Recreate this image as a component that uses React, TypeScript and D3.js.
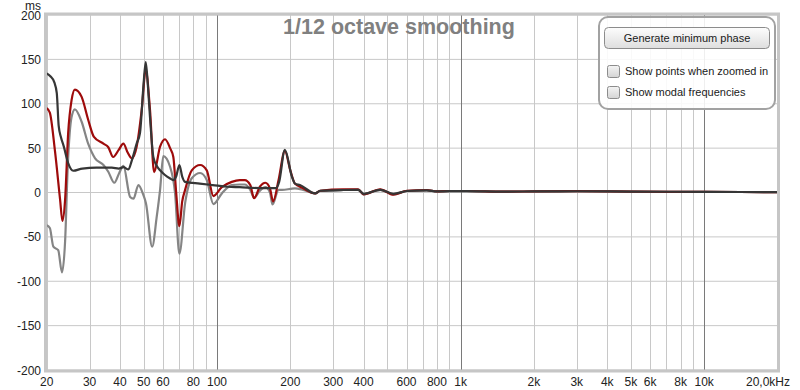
import React from "react";
import * as d3 from "d3";

// ---------- data ----------
const redFreq = [
  20, 20.6, 21.6, 22.7, 23.2, 23.8, 24.5, 25.3, 26.1, 27.8,
  29.6, 31.2, 34.2, 35.8, 37.5, 39.5, 41.3, 43, 44.7, 46.8,
  49.1, 51, 53.1, 55.2, 58.4, 61.2, 64.2, 66.2, 68, 70.1,
  72, 74, 78.8, 85.3, 90.8, 96.7, 104.7, 115, 124, 130,
  137, 142, 150, 158, 165, 170, 179, 190, 200, 209,
  226, 253, 265, 330, 380, 400, 468, 530, 602, 727,
  800, 900, 1060, 1500, 2000, 3000, 5000, 10000, 20000,
];
const redMs = [
  95, 90, 48, -8, -32, -8, 67, 104, 116, 108,
  82, 63, 55, 51, 40, 48, 55, 45, 38.5, 51.6,
  93, 138, 93, 23, 51.6, 60, 50, 40, 0, -38,
  -10, 3, 25, 31, 25, -4, 6, 12, 14, 14,
  8.4, -6.5, 6.5, 11, 4.7, -10, 14, 47, 25, 10,
  4.7, -1, 2, 3.6, 3.6, -2, 3.6, -2.5, 2, 2.8,
  1.2, 1.7, 1.7, 1, 1.2, 1.5, 1, 0.7, 0.4,
];

const grayFreq = [
  20, 20.6, 21.3, 22.3, 23.1, 23.8, 24.4, 25.3, 26.1, 27.8,
  29.6, 31.6, 34.2, 35.8, 37.9, 39.7, 41.3, 44, 45.4, 47.6,
  49.9, 51.1, 54.2, 56.6, 58.4, 60.2, 64.2, 67.3, 70.1, 74,
  78.8, 85.3, 90.8, 96.7, 104.7, 115, 124, 130, 137, 142,
  150, 158, 165, 169, 179, 185, 200, 209, 226, 253,
  265, 330, 380, 400, 468, 530, 602, 727, 800, 900,
  1060, 1500, 2000, 3000, 5000, 10000, 20000,
];
const grayMs = [
  -37, -40, -61, -65, -90, -55, 29, 85, 93.7, 80,
  55, 38.5, 31, 23.4, 11, 22, 30, -5, -7, 8.4,
  -3, -12, -61, -27, 3, 41, 29, -1, -69, -12,
  16, 22, 14, -13, -1, 8.4, 9, 9, 3, -6,
  2, 6, 0, -13.5, 3, 3, 4, 4.7, 3, -1,
  1.7, 2.8, 3, -2, 3, -2, 1.7, 2.5, 1.2, 1.5,
  1.5, 1, 1.2, 1.4, 1, 0.7, 0.4,
];

const darkFreq = [
  20, 20.7, 21.5, 22.0, 22.4, 22.9, 23.5, 24.5, 25.7, 28,
  32, 37, 39.5, 41.3, 43.3, 44.7, 46.8, 48.3, 49.9, 51,
  52, 53.1, 54.8, 56.6, 58.4, 61, 64, 66.2, 68, 70.1,
  72, 74, 85, 96, 111, 124, 150, 175, 180, 190,
  203, 209, 219, 253, 265, 330, 380, 400, 468, 530,
  602, 727, 800, 900, 1060, 1500, 2000, 3000, 5000, 10000,
  20000,
];
const darkMs = [
  134, 131, 124, 112, 75, 62, 52, 33, 24.5, 27,
  28, 28, 27, 28.5, 26, 36, 55, 67, 120, 147,
  122, 85, 40, 30, 25, 20, 16, 14, 18, 31,
  18, 12, 10, 8.4, 6.5, 6, 5, 5, 12, 48,
  18, 10, 8.4, -1, 2, 2.8, 3, -1.5, 3, -1.5,
  1.7, 2.5, 1.2, 1.5, 1.5, 1, 1.2, 1.4, 1, 0.7,
  0.4,
];

const yTicks = [200, 150, 100, 50, 0, -50, -100, -150, -200];
const xTickValues = [20, 30, 40, 50, 60, 80, 100, 200, 300, 400, 600, 800, 1000, 2000, 3000, 4000, 5000, 6000, 8000, 10000];
const xTickLabels = ["20", "30", "40", "50", "60", "80", "100", "200", "300", "400", "600", "800", "1k", "2k", "3k", "4k", "5k", "6k", "8k", "10k"];
const lastTickLabel = "20,0kHz";
const titleText = "1/12 octave smoothing";
const yUnit = "ms";
const buttonLabel = "Generate minimum phase";
const checkLabels = ["Show points when zoomed in", "Show modal frequencies"];

// ---------- layout ----------
const W = 800;
const H = 390;
const x = d3.scaleLog().domain([20, 20000]).range([46.7, 777.5]);
const y = d3.scaleLinear().domain([-200, 200]).range([370, 15]);
const FONT = "'Liberation Sans', Arial, sans-serif";

const gridFreqs: number[] = [];
for (let dec = 10; dec <= 1000; dec *= 10) {
  for (let m = 1; m <= 9; m++) {
    const f = m * dec;
    if (f >= 20 && f <= 10000) gridFreqs.push(f);
  }
}
gridFreqs.push(10000);

const line = d3
  .line<[number, number]>()
  .x((d) => x(d[0]))
  .y((d) => y(d[1]))
  .curve(d3.curveMonotoneX);

const zip = (f: number[], v: number[]) => f.map((ff, i) => [ff, v[i]] as [number, number]);

export default function App() {
  const series = [
    { key: "gray", data: zip(grayFreq, grayMs), color: "#858585" },
    { key: "red", data: zip(redFreq, redMs), color: "#9e0b0b" },
    { key: "dark", data: zip(darkFreq, darkMs), color: "#363636" },
  ];
  return (
    <svg
      width={W}
      height={H}
      style={{ position: "absolute", left: 0, top: 0, background: "#fff" }}
      fontFamily={FONT}
    >
      <defs>
        <linearGradient id="btnGrad" x1="0" y1="0" x2="0" y2="1">
          <stop offset="0" stopColor="#fdfdfd" />
          <stop offset="1" stopColor="#dedede" />
        </linearGradient>
        <linearGradient id="chkGrad" x1="0" y1="0" x2="0" y2="1">
          <stop offset="0" stopColor="#f4f4f4" />
          <stop offset="1" stopColor="#d4d4d4" />
        </linearGradient>
        <clipPath id="plotClip">
          <rect x={47} y={16} width={730} height={353} />
        </clipPath>
      </defs>
      <rect x={0} y={0} width={W} height={H} fill="#fff" />

      {/* horizontal grid */}
      {yTicks.map((t) => (
        <line key={"h" + t} x1={x(20)} x2={x(20000)} y1={y(t)} y2={y(t)} stroke="#c8c8c8" strokeWidth={1} />
      ))}
      {/* vertical grid */}
      {gridFreqs.map((f) => {
        const major = f === 100 || f === 1000 || f === 10000;
        return (
          <line
            key={"v" + f}
            x1={Math.round(x(f)) + 0.5}
            x2={Math.round(x(f)) + 0.5}
            y1={y(200)}
            y2={y(-200)}
            stroke={major ? "#7a7a7a" : "#c8c8c8"}
            strokeWidth={1}
          />
        );
      })}

      {/* frame */}
      <rect x={45.5} y={14} width={733} height={357} fill="none" stroke="#c6c6c6" strokeWidth={3} />

      {/* title */}
      <text x={399} y={33.5} textAnchor="middle" fontSize={21.5} fontWeight="bold" fill="#808080">
        {titleText}
      </text>

      {/* curves */}
      <g clipPath="url(#plotClip)">
        {series.map((s) => (
          <path key={s.key} d={line(s.data) || ""} fill="none" stroke={s.color} strokeWidth={2.2} strokeLinejoin="round" />
        ))}
      </g>

      {/* y axis labels */}
      {yTicks.map((t) => (
        <text key={"yl" + t} x={41} y={y(t) + 4.5} textAnchor="end" fontSize={12} fill="#222">
          {t}
        </text>
      ))}
      <text x={41} y={10} textAnchor="end" fontSize={12} fill="#222">
        {yUnit}
      </text>

      {/* x axis labels */}
      {xTickValues.map((f, i) => (
        <text key={"xl" + f} x={x(f)} y={386} textAnchor="middle" fontSize={12} fill="#222">
          {xTickLabels[i]}
        </text>
      ))}
      <text x={790} y={386} textAnchor="end" fontSize={12} fill="#222">
        {lastTickLabel}
      </text>

      {/* control panel */}
      <rect x={599} y={17} width={176} height={92} rx={9} fill="#fff" fillOpacity={0.88} stroke="#a2a2a2" strokeWidth={2} />
      <rect x={604.5} y={27.5} width={165} height={21} rx={4} fill="url(#btnGrad)" stroke="#8c8c8c" strokeWidth={1} />
      <text x={687} y={42} textAnchor="middle" fontSize={11} fill="#1a1a1a">
        {buttonLabel}
      </text>
      {checkLabels.map((lab, i) => (
        <g key={lab}>
          <rect x={607.5} y={65.5 + i * 21} width={12} height={12} rx={2} fill="url(#chkGrad)" stroke="#8c8c8c" strokeWidth={1} />
          <text x={625} y={75 + i * 21} fontSize={11} fill="#1a1a1a">
            {lab}
          </text>
        </g>
      ))}
    </svg>
  );
}
